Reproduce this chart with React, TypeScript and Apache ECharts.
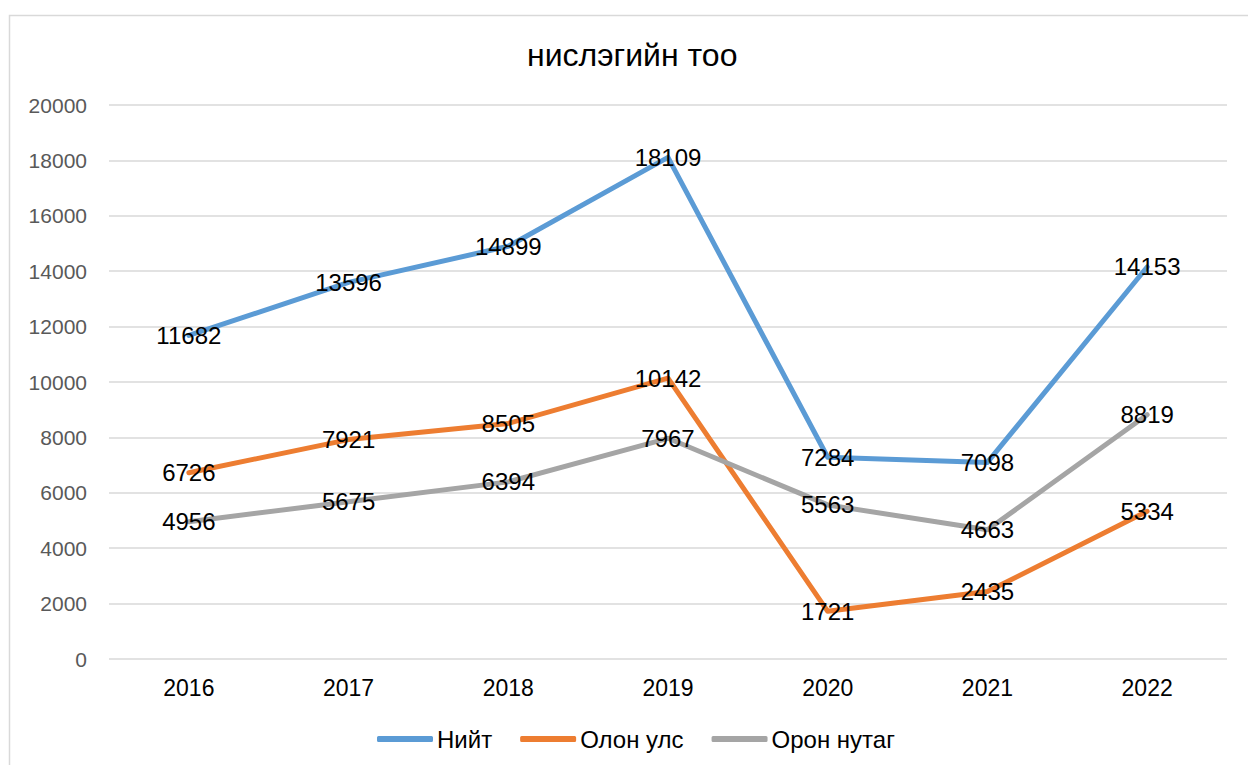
import React, { useEffect, useRef } from "react";
import * as echarts from "echarts";

const title = "нислэгийн тоо";
const years = ["2016", "2017", "2018", "2019", "2020", "2021", "2022"];
const seriesNames = ["Нийт", "Олон улс", "Орон нутаг"];
const total = [11682, 13596, 14899, 18109, 7284, 7098, 14153];
const international = [6726, 7921, 8505, 10142, 1721, 2435, 5334];
const domestic = [4956, 5675, 6394, 7967, 5563, 4663, 8819];
const colors = ["#5B9BD5", "#ED7D31", "#A5A5A5"];

export default function App() {
  const ref = useRef<HTMLDivElement>(null);
  useEffect(() => {
    document.body.style.margin = "0";
    const chart = echarts.init(ref.current!, null, { renderer: "svg" });
    const font = "Liberation Sans";
    const mk = (name: string, data: number[], color: string) => ({
      name,
      type: "line",
      data,
      symbol: "circle",
      symbolSize: 0,
      showSymbol: true,
      lineStyle: { color, width: 5, cap: "round", join: "round" },
      itemStyle: { color },
      label: {
        show: true,
        position: "inside",
        color: "#000",
        fontSize: 24,
        fontFamily: font,
        offset: [0, 1],
      },
      labelLayout: { hideOverlap: false },
    });
    chart.setOption({
      animation: false,
      backgroundColor: "#fff",
      color: colors,
      graphic: [
        {
          type: "rect",
          shape: { x: 9.5, y: 15.5, width: 1260, height: 780 },
          style: { fill: "none", stroke: "#d9d9d9", lineWidth: 1.5 },
          silent: true,
        },
      ],
      title: {
        text: title,
        left: 522,
        top: 34,
        textStyle: { color: "#000", fontSize: 32, fontWeight: "normal", fontFamily: font },
      },
      legend: {
        top: 722,
        left: 372,
        icon: "roundRect",
        itemWidth: 56,
        itemHeight: 6,
        itemGap: 28,
        textStyle: { color: "#000", fontSize: 24, fontFamily: font, padding: [0, 0, 0, -1] },
        data: seriesNames,
      },
      grid: { left: 109, right: 21, top: 105, bottom: 106, containLabel: false },
      xAxis: {
        type: "category",
        data: years,
        boundaryGap: true,
        axisLine: { show: false },
        axisTick: { show: false },
        axisLabel: { color: "#000", fontSize: 23, fontFamily: font, margin: 17 },
      },
      yAxis: {
        type: "value",
        min: 0,
        max: 20000,
        interval: 2000,
        axisLine: { show: false },
        axisTick: { show: false },
        splitLine: { lineStyle: { color: "#d9d9d9", width: 1.5 } },
        axisLabel: {
          color: "#595959",
          fontSize: 21,
          fontFamily: font,
          margin: 22,
          formatter: (v: number) => String(v),
        },
      },
      series: [
        mk(seriesNames[0], total, colors[0]),
        mk(seriesNames[1], international, colors[1]),
        mk(seriesNames[2], domestic, colors[2]),
      ],
    });
    return () => chart.dispose();
  }, []);
  return (
    <div
      ref={ref}
      style={{ position: "absolute", left: 0, top: 0, width: 1248, height: 765 }}
    />
  );
}
